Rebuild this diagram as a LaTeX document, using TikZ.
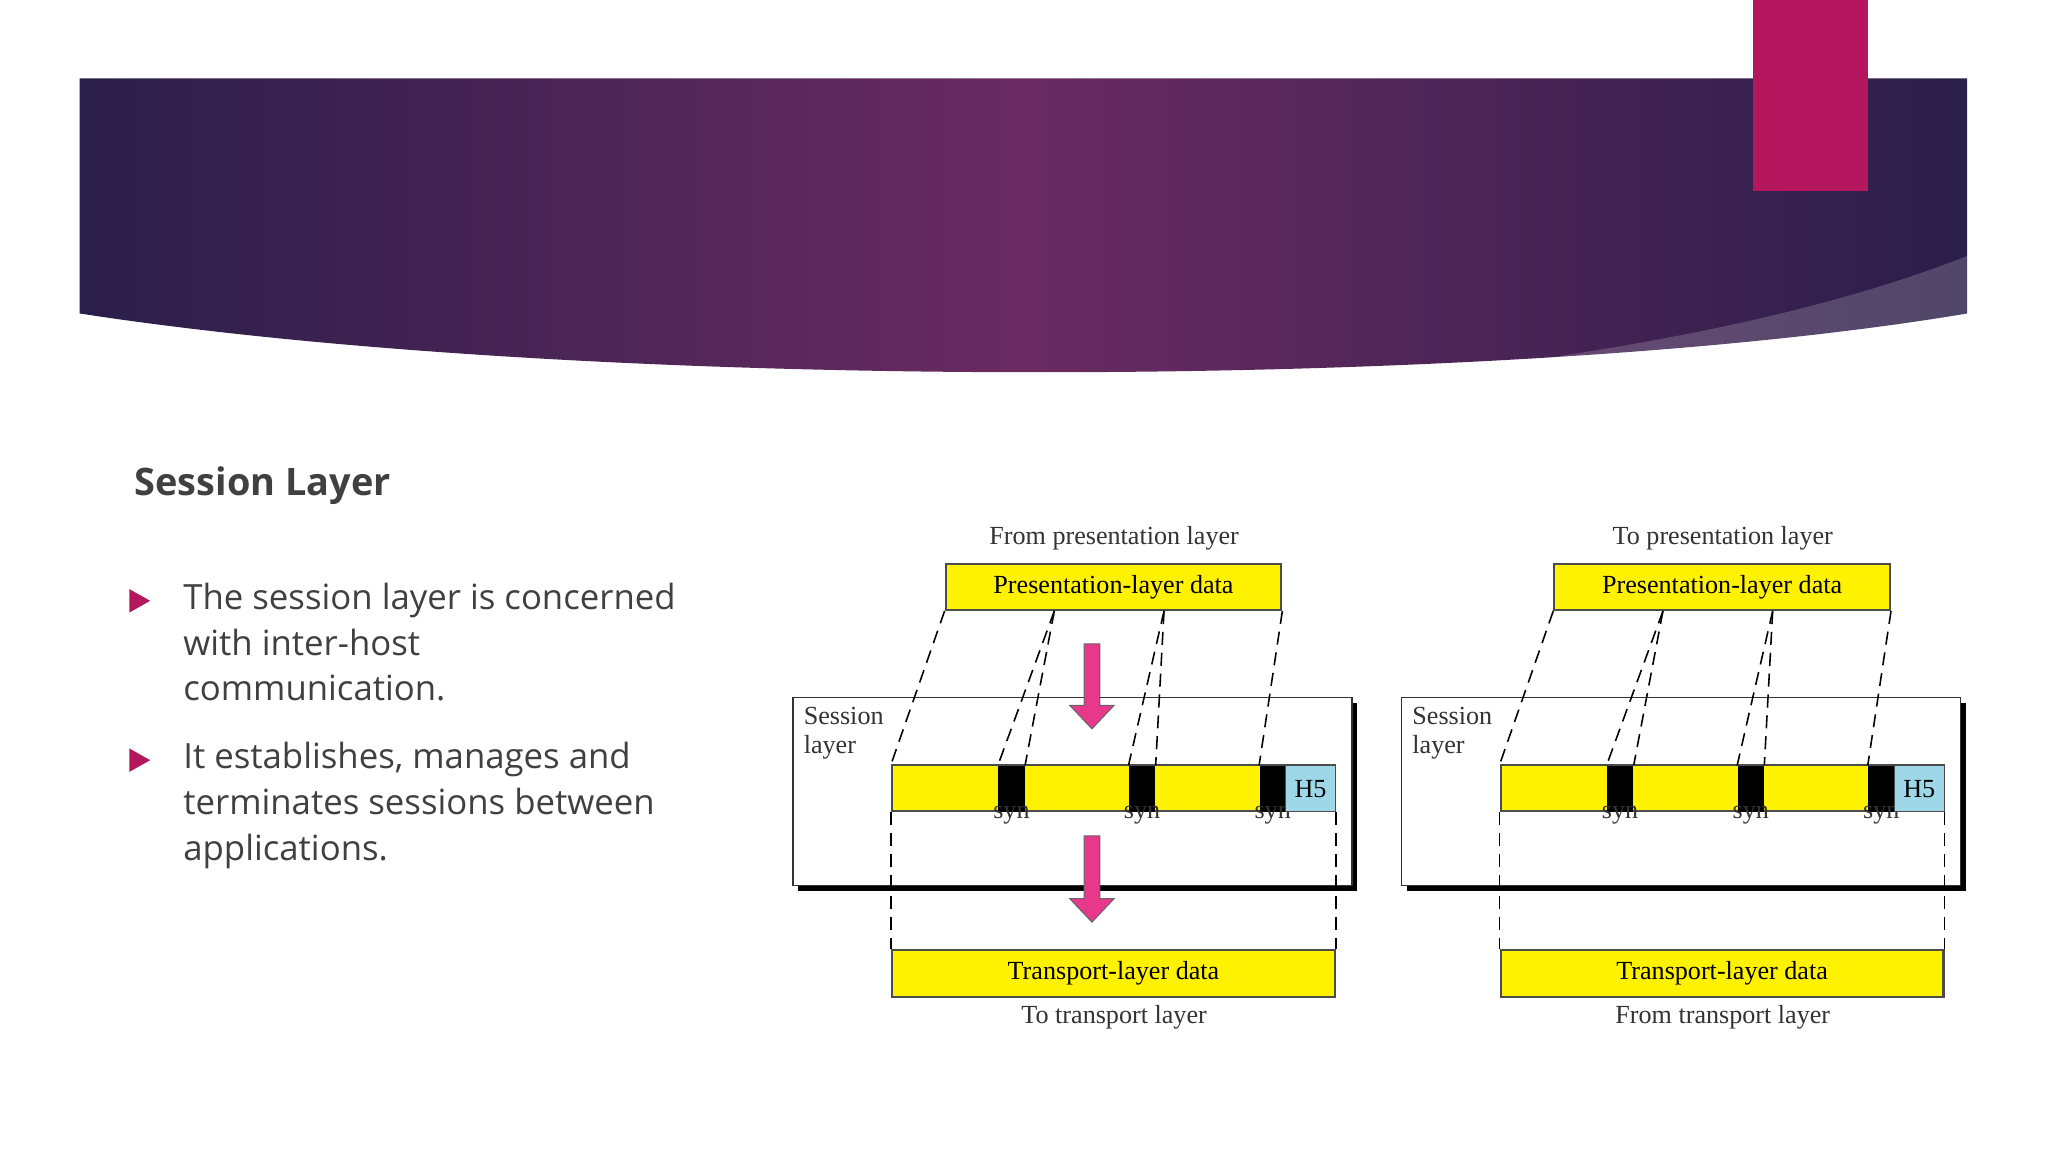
\documentclass[tikz,border=0pt]{standalone}
\usepackage{fontspec}
\setmainfont{Liberation Serif}
\newfontfamily\osans{Open Sans}
\usetikzlibrary{calc}
\definecolor{ban1}{HTML}{2A1E4A}
\definecolor{ban2}{HTML}{6A2B62}
\definecolor{accent}{HTML}{B5175F}
\definecolor{arr}{HTML}{E8388C}
\definecolor{hfive}{HTML}{9ED8E8}
\definecolor{txt}{HTML}{404040}
\tikzset{
 ybox/.style={draw=black!70,fill=yellow,line width=0.8pt,inner sep=0pt},
 dl/.style={dashed,line width=0.6pt,dash pattern=on 5pt off 3pt},
 lbl/.style={font=\fontsize{10}{12}\selectfont,text=black!80,inner sep=0pt},
 parr/.style={fill=arr,draw=black!60,line width=0.4pt}
}
\newcommand\downarr[3]{% x, ytop, ybottom
 \draw[parr] (#1-6,#2) -- (#1+6,#2) -- (#1+6,#3-18) -- (#1+17,#3-18) -- (#1,#3) -- (#1-17,#3-18) -- (#1-6,#3-18) -- cycle;}
\newcommand\uparr[3]{% x, ytop, ybottom
 \draw[parr] (#1-6,#3) -- (#1+6,#3) -- (#1+6,#2+18) -- (#1+17,#2+18) -- (#1,#2) -- (#1-17,#2+18) -- (#1-6,#2+18) -- cycle;}
\newcommand\sessdiag[5]{% prefix, xshift, top text, bottom text, up(1)/down(0)
\begin{scope}[xshift=#2*0.5pt]
 \node[lbl] (#1top) at (853,412) {#3};
 \node[ybox,minimum width=128.5pt,minimum height=17.5pt] (#1pres) at (852.5,449.5) {\fontsize{10}{12}\selectfont Presentation-layer data};
 \fill[black] (611,538) rectangle (1039,682);
 \node[draw=black!80,fill=white,line width=0.6pt,minimum width=214pt,minimum height=72pt,inner sep=0pt] (#1sess) at (821,606) {};
 \node[lbl,align=left,anchor=north west] (#1slab) at (615,541) {Session\\[-1pt]layer};
 \node[ybox,minimum width=169.5pt,minimum height=17.5pt] (#1bar) at (852.5,603.5) {};
 \foreach \a/\n in {764/s1,864/s2,964/s3}{
   \node[fill=black,minimum width=10pt,minimum height=17.5pt,inner sep=0pt,anchor=north west] (#1\n) at (\a,586) {};
   \draw[line width=0.8pt] (#1\n.south) -- ++(0,-11) node[lbl,below=3pt] {syn};
 }
 \node[draw=black!70,fill=hfive,minimum width=19pt,minimum height=17.5pt,inner sep=0pt,anchor=north west,font=\fontsize{10}{12}\selectfont] (#1h) at (984,586) {H5};
 \node[ybox,minimum width=169.5pt,minimum height=18pt] (#1trans) at (852.5,745) {\fontsize{10}{12}\selectfont Transport-layer data};
 \node[lbl] (#1bot) at (853,779) {#4};
 \draw[dl] (#1pres.south west) -- (#1bar.north west);
 \draw[dl] ($(#1pres.south west)+(84,0)$) -- (#1s1.north west);
 \draw[dl] ($(#1pres.south west)+(84,0)$) -- (#1s1.north east);
 \draw[dl] ($(#1pres.south west)+(168,0)$) -- (#1s2.north west);
 \draw[dl] ($(#1pres.south west)+(168,0)$) -- (#1s2.north east);
 \draw[dl] (#1pres.south east) -- (#1s3.north west);
 \draw[dl] (#1bar.south west) -- (#1trans.north west);
 \draw[dl] (#1bar.south east) -- (#1trans.north east);
 \ifnum#5=0
  \downarr{836}{493}{558}
  \downarr{836}{640}{706}
 \else
  \uparr{1300}{493}{558}
  \uparr{1298}{640}{706}
 \fi
\end{scope}}
\begin{document}
\begin{tikzpicture}[x=0.5pt,y=-0.5pt]
\useasboundingbox (0,0) rectangle (1568,882);
\fill[white] (0,0) rectangle (1568,882);
% banner
\shade[left color=ban1,right color=ban1,middle color=ban2]
 (61,60) -- (1506,60) -- (1506,240) .. controls (1150,300) and (450,300) .. (61,240) -- cycle;
\fill[white,opacity=0.18] (1120,283) .. controls (1300,260) and (1420,230) .. (1506,196) -- (1506,240) .. controls (1400,258) and (1250,275) .. cycle;
\fill[accent] (1342,0) rectangle (1430,146);
% text
\node[anchor=west,font=\osans\bfseries\fontsize{14.5}{17}\selectfont,text=txt] (title) at (96,372) {Session Layer};
\node[anchor=north west,align=left,font=\osans\fontsize{13.3}{17.5}\selectfont,text=txt,inner sep=0pt] (b1) at (140,446) {The session layer is concerned\\with inter-host\\communication.};
\node[anchor=north west,align=left,font=\osans\fontsize{13.3}{17.5}\selectfont,text=txt,inner sep=0pt] (b2) at (140,568) {It establishes, manages and\\terminates sessions between\\applications.};
\fill[accent] (99,451) -- (115,460) -- (99,469) -- cycle;
\fill[accent] (99,573) -- (115,582) -- (99,591) -- cycle;
% diagrams
\sessdiag{L}{0}{From presentation layer}{To transport layer}{0}
\sessdiag{R}{466}{To presentation layer}{From transport layer}{1}
\end{tikzpicture}
\end{document}
